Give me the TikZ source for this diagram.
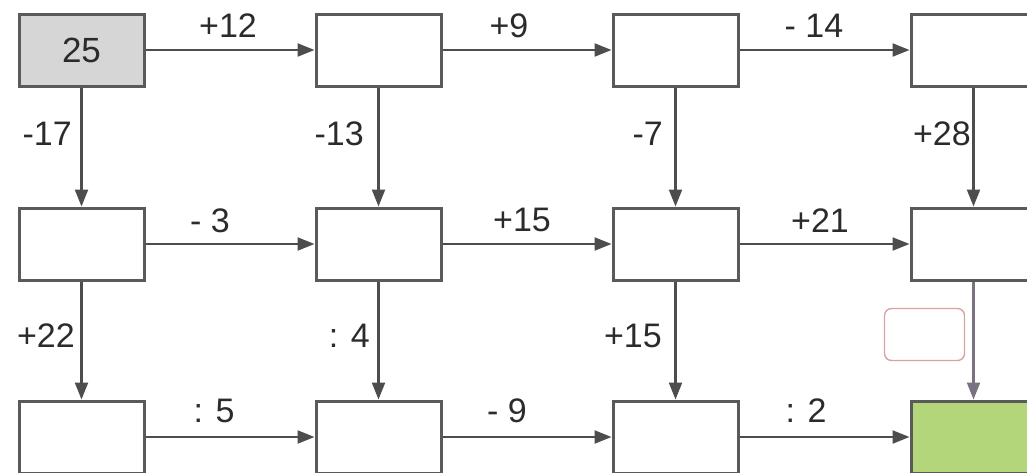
\documentclass[tikz,border=0pt]{standalone}
\usepackage{fontspec}
\setmainfont{Liberation Sans}
\usetikzlibrary{arrows.meta}
\definecolor{boxc}{HTML}{5A5A5A}
\definecolor{linec}{HTML}{4D4D4D}
\definecolor{greyc}{HTML}{D6D6D6}
\definecolor{greenc}{HTML}{B3D67A}
\definecolor{txtc}{HTML}{2B2B2B}
\definecolor{pinkc}{HTML}{D9A3A3}
\definecolor{fadec}{HTML}{7A7280}
\begin{document}
\begin{tikzpicture}[x=1pt,y=-1pt,
  box/.style={draw=boxc, line width=3pt, minimum width=125pt, minimum height=72pt, inner sep=0pt, fill=white},
  arr/.style={draw=linec, line width=2.2pt, -{Triangle[length=17pt,width=13pt]}},
  lab/.style={font=\fontsize{34}{36}\selectfont, text=txtc, inner sep=0pt}]
\useasboundingbox (0,0) rectangle (1027,472);
\clip (0,0) rectangle (1027,472);
\fill[white] (0,0) rectangle (1027,472);
% boxes
\node[box, fill=greyc, text=txtc, font=\fontsize{35}{37}\selectfont] (a1) at (81.5,50) {25};
\node[box] (a2) at (378.5,50) {};
\node[box] (a3) at (675.5,50) {};
\node[box] (a4) at (973.5,50) {};
\node[box] (b1) at (81.5,244) {};
\node[box] (b2) at (378.5,244) {};
\node[box] (b3) at (675.5,244) {};
\node[box] (b4) at (973.5,244) {};
\node[box] (c1) at (81.5,437) {};
\node[box] (c2) at (378.5,437) {};
\node[box] (c3) at (675.5,437) {};
\node[box, fill=greenc] (c4) at (973.5,437) {};
% pink empty box
\node[draw=pinkc, rounded corners=7pt, line width=1.4pt, minimum width=80pt, minimum height=52pt, fill=white] (p) at (924.5,334.5) {};
% horizontal arrows
\draw[arr] (a1) -- (a2);
\draw[arr] (a2) -- (a3);
\draw[arr] (a3) -- (a4);
\draw[arr] (b1) -- (b2);
\draw[arr] (b2) -- (b3);
\draw[arr] (b3) -- (b4);
\draw[arr] (c1) -- (c2);
\draw[arr] (c2) -- (c3);
\draw[arr] (c3) -- (c4);
% vertical arrows
\draw[arr] (a1) -- (b1);
\draw[arr] (a2) -- (b2);
\draw[arr] (a3) -- (b3);
\draw[arr] (a4) -- (b4);
\draw[arr] (b1) -- (c1);
\draw[arr] (b2) -- (c2);
\draw[arr] (b3) -- (c3);
\draw[arr, draw=fadec] (b4) -- (c4);
% horizontal labels
\node[lab, anchor=base] (h1) at (228,37) {+12};
\node[lab, anchor=base] (h2) at (509,37) {+9};
\node[lab, anchor=base] (h3) at (814,37) {- 14};
\node[lab, anchor=base] (h4) at (210,232) {- 3};
\node[lab, anchor=base] (h5) at (522,231) {+15};
\node[lab, anchor=base] (h6) at (820,232) {+21};
\node[lab, anchor=base] (h7) at (214,422) {: 5};
\node[lab, anchor=base] (h8) at (507,422) {- 9};
\node[lab, anchor=base] (h9) at (806,422) {: 2};
% vertical labels
\node[lab, anchor=base east] (v1) at (72,145) {-17};
\node[lab, anchor=base east] (v2) at (364,145) {-13};
\node[lab, anchor=base east] (v3) at (663,145) {-7};
\node[lab, anchor=base east] (v4) at (971,145) {+28};
\node[lab, anchor=base east] (v5) at (75,347) {+22};
\node[lab, anchor=base east] (v6) at (370,347) {: 4};
\node[lab, anchor=base east] (v7) at (662,347) {+15};
\end{tikzpicture}
\end{document}
